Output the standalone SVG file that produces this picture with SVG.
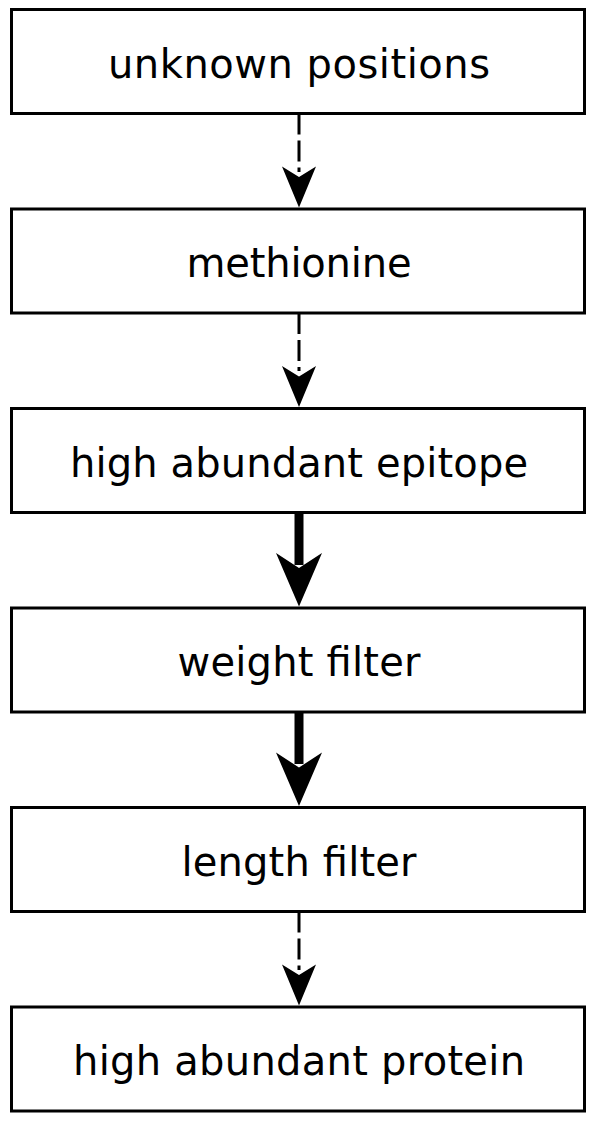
<svg xmlns="http://www.w3.org/2000/svg" width="600" height="1127" viewBox="0 0 600 1127">
<style>
.box{fill:#fff;stroke:#000;stroke-width:3}
.lbl{font-family:"DejaVu Sans",sans-serif;font-size:40px;fill:#000;text-anchor:middle}
.dash{stroke:#000;stroke-width:3;stroke-dasharray:21,6;fill:none}
.thick{stroke:#000;stroke-width:9;fill:none}
.head{fill:#000;stroke:none}
</style>
<rect width="600" height="1127" fill="#fff"/>
<g id="n1"><rect class="box" x="11.5" y="9.5" width="573" height="104"/><text class="lbl" x="299" y="77.5" textLength="382" lengthAdjust="spacing">unknown positions</text></g>
<g id="n2"><rect class="box" x="11.5" y="209" width="573" height="104"/><text class="lbl" x="299" y="277" textLength="225" lengthAdjust="spacing">methionine</text></g>
<g id="n3"><rect class="box" x="11.5" y="408.5" width="573" height="104"/><text class="lbl" x="299" y="476.5" textLength="458" lengthAdjust="spacing">high abundant epitope</text></g>
<g id="n4"><rect class="box" x="11.5" y="608" width="573" height="104"/><text class="lbl" x="299" y="676" textLength="243" lengthAdjust="spacing">weight filter</text></g>
<g id="n5"><rect class="box" x="11.5" y="807.5" width="573" height="104"/><text class="lbl" x="299" y="875.5" textLength="235" lengthAdjust="spacing">length filter</text></g>
<g id="n6"><rect class="box" x="11.5" y="1007" width="573" height="104"/><text class="lbl" x="299" y="1075" textLength="452" lengthAdjust="spacing">high abundant protein</text></g>
<g id="connectors">
<line class="dash" x1="299" y1="113.5" x2="299" y2="172"/>
<polygon class="head" points="299,207.5 282,166.5 299,177 316,166.5"/>
<line class="dash" x1="299" y1="313" x2="299" y2="371"/>
<polygon class="head" points="299,407 282,366 299,376.5 316,366"/>
<line class="thick" x1="299" y1="512.5" x2="299" y2="565"/>
<polygon class="head" points="299,606.5 276,553 299,568 322,553"/>
<line class="thick" x1="299" y1="712" x2="299" y2="764"/>
<polygon class="head" points="299,806 276,752.5 299,767.5 322,752.5"/>
<line class="dash" x1="299" y1="911.5" x2="299" y2="970"/>
<polygon class="head" points="299,1005.5 282,964.5 299,975 316,964.5"/>
</g>
</svg>
